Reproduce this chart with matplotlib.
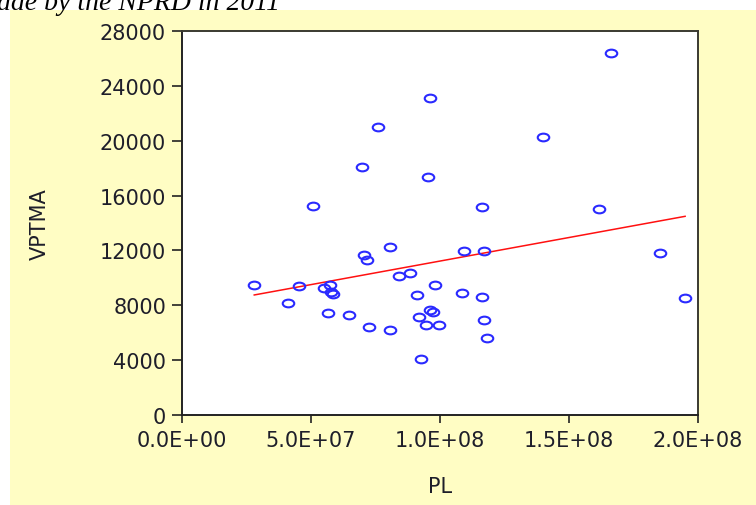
import numpy as np
import matplotlib
matplotlib.use("Agg")
import matplotlib.pyplot as plt
from matplotlib.path import Path
from matplotlib.transforms import Affine2D
from matplotlib.patches import Rectangle

# ---- data ----
pl = np.array([
    28.0, 41.2, 45.5, 50.9, 55.2, 57.4, 57.8, 58.5, 56.7, 64.7,
    72.6, 70.7, 71.8, 69.9, 76.1, 80.6, 80.6, 84.1, 88.4, 91.0,
    91.9, 92.6, 94.5, 95.5, 96.1, 96.1, 97.2, 98.1, 99.7, 108.6,
    109.4, 116.4, 117.2, 116.4, 117.2, 118.1, 140.0, 161.7, 166.3, 185.3,
    195.0]) * 1e6
vptma = np.array([
    9501, 8145, 9385, 15262, 9260, 9479, 8969, 8823, 7438, 7292,
    6439, 11689, 11324, 18105, 21022, 12228, 6198, 10114, 10354, 8772,
    7168, 4083, 6563, 17332, 23115, 7678, 7532, 9501, 6563, 8896,
    11936, 8626, 11936, 15145, 6927, 5593, 20293, 15021, 26396, 11813,
    8509])

x_ticks = [0, 5e7, 1e8, 1.5e8, 2e8]
x_tick_labels = ["0.0E+00", "5.0E+07", "1.0E+08", "1.5E+08", "2.0E+08"]
y_ticks = [0, 4000, 8000, 12000, 16000, 20000, 24000, 28000]
y_tick_labels = ["0", "4000", "8000", "12000", "16000", "20000", "24000", "28000"]
x_label = "PL"
y_label = "VPTMA"
caption = "ade by the NPRD in 2011"

# ---- figure ----
W, H = 756, 506
fig = plt.figure(figsize=(W / 100, H / 100), dpi=100)
fig.patch.set_facecolor("white")
bg = "#FFFDC4"
fig.add_artist(Rectangle((10 / W, 0), 1 - 10 / W, 1 - 11 / H,
                         transform=fig.transFigure, facecolor=bg,
                         edgecolor="none", zorder=-5))

ax = fig.add_axes([182 / W, (H - 416) / H, 516 / W, 384 / H])
ax.set_zorder(2)
ax.set_facecolor("white")

ellipse = Path.unit_circle().transformed(Affine2D().scale(1.5, 1.0))
ax.plot(pl, vptma, linestyle="none", marker=ellipse, markersize=8.3,
        markerfacecolor="none", markeredgecolor="#2a2aFF",
        markeredgewidth=1.5, zorder=3)

# OLS fit line over data range
b, a = np.polyfit(pl, vptma, 1)
xs = np.array([pl.min(), pl.max()])
ax.plot(xs, a + b * xs, color="#FF1010", linewidth=1.1, zorder=2)

ax.set_xlim(0, 2e8)
ax.set_ylim(0, 28000)
ax.set_xticks(x_ticks)
ax.set_xticklabels(x_tick_labels)
ax.set_yticks(y_ticks)
ax.set_yticklabels(y_tick_labels)

tc = "#1E1E2A"
for s in ax.spines.values():
    s.set_linewidth(1.4)
    s.set_color("#222222")
ax.spines["top"].set_color("#3a3a30")
ax.spines["right"].set_color("#3a3a30")

font = "DejaVu Sans"
ax.tick_params(axis="x", direction="out", length=6, width=1.2, pad=5,
               labelsize=15, labelcolor=tc, colors="#222222")
ax.tick_params(axis="y", direction="out", length=7.5, width=1.2, pad=4,
               labelsize=15, labelcolor=tc, colors="#222222")
for lab in ax.get_xticklabels() + ax.get_yticklabels():
    lab.set_family(font)

ax.set_xlabel(x_label, fontsize=15, family=font, color=tc, va="center")
ax.xaxis.set_label_coords(0.5, (416 - 487) / 384)
ax.set_ylabel(y_label, fontsize=15, family=font, color=tc, va="center")
ax.yaxis.set_label_coords((40 - 182) / 516, 0.5)

fig.text(-3 / W, 1 - 10 / H, caption, fontsize=20, family="Liberation Serif",
         style="italic", color="black", va="baseline", ha="left")

fig.savefig("out.png", dpi=100)
